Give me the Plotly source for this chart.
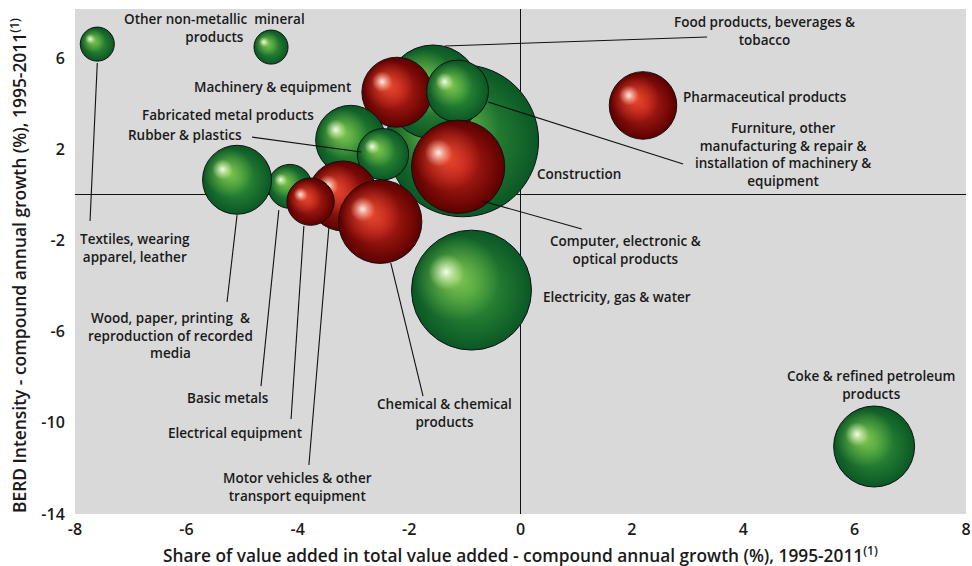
import math
import plotly.graph_objects as go

# ---------------- data ----------------
sectors = [
    "Construction", "Food products, beverages & tobacco", "Electricity, gas & water",
    "Machinery & equipment", "Furniture, other manufacturing & repair", "Computer, electronic & optical products",
    "Fabricated metal products", "Rubber & plastics", "Motor vehicles & other transport equipment",
    "Chemical & chemical products", "Basic metals", "Electrical equipment",
    "Wood, paper, printing & reproduction of recorded media", "Textiles, wearing apparel, leather",
    "Other non-metallic mineral products", "Pharmaceutical products", "Coke & refined petroleum products",
]
value_added_growth = [-1.04, -1.57, -0.88, -2.22, -1.13, -1.12, -3.05, -2.47, -3.19, -2.52,
                      -4.14, -3.77, -5.09, -7.60, -4.48, 2.20, 6.35]
berd_growth = [2.37, 4.51, -4.18, 4.50, 4.55, 1.23, 2.39, 1.78, -0.05, -1.18,
               0.37, -0.30, 0.66, 6.61, 6.48, 3.92, -11.04]
bubble_weight = [57.8, 22.1, 36.0, 12.25, 9.6, 21.8, 12.25, 6.6, 12.25, 17.4,
                 4.84, 5.6, 11.9, 2.9, 2.9, 11.4, 16.4]
tech_group = ["low", "low", "low", "high", "low", "high", "low", "low", "high", "high",
              "low", "high", "low", "low", "low", "high", "low"]

x_ticks = [-8, -6, -4, -2, 0, 2, 4, 6, 8]
x_tick_text = ["-8", "-6", "-4", "-2", "0", "2", "4", "6", "8"]
y_ticks = [-14, -10, -6, -2, 2, 6]
y_tick_text = ["-14", "-10", "-6", "-2", "2", "6"]

x_title = "Share of value added in total value added - compound annual growth (%), 1995-2011<sup>(1)</sup>"
y_title = "BERD Intensity - compound annual growth (%), 1995-2011<sup>(1)</sup>"

# ---------------- layout constants ----------------
W, H = 972, 566
M = dict(l=75, r=6, t=9, b=52)
XR = [-8, 8]
YR = [-14, 8.15]
MAX_DIAM = 152
FONT = "Open Sans"
TXT = "#1a1a1a"

PW = W - M["l"] - M["r"]
PH = H - M["t"] - M["b"]
px_x = PW / (XR[1] - XR[0])
px_y = PH / (YR[1] - YR[0])
wmax = max(bubble_weight)

styles = {
    "low": dict(edge="#0a5726", center="#3a9a3a",
                mid=("rgba(140,205,85,0.95)", "rgba(110,185,70,0)"),
                hi=("rgba(245,253,232,1)", "rgba(200,238,160,0)")),
    "high": dict(edge="#5c0000", center="#c4261a",
                 mid=("rgba(238,80,52,0.95)", "rgba(225,60,40,0)"),
                 hi=("rgba(255,240,232,1)", "rgba(255,175,155,0)")),
}

fig = go.Figure()
for name, xv, yv, w, g in zip(sectors, value_added_growth, berd_growth, bubble_weight, tech_group):
    s = styles[g]
    d = MAX_DIAM * math.sqrt(w / wmax)
    r = d / 2
    fig.add_trace(go.Scatter(
        x=[xv], y=[yv], mode="markers", name=name, hoverinfo="name",
        marker=dict(size=d, sizemode="diameter", color=s["edge"],
                    gradient=dict(type="radial", color=s["center"]),
                    line=dict(color="#111111", width=1), opacity=1),
    ))
    # soft lit area
    fig.add_trace(go.Scatter(
        x=[xv - 0.24 * r / px_x], y=[yv + 0.2 * r / px_y], mode="markers", hoverinfo="skip",
        marker=dict(size=2 * 0.72 * r, color=s["mid"][1],
                    gradient=dict(type="radial", color=s["mid"][0]), line=dict(width=0)),
    ))
    # specular highlight
    fig.add_trace(go.Scatter(
        x=[xv - 0.42 * r / px_x], y=[yv + 0.3 * r / px_y], mode="markers", hoverinfo="skip",
        marker=dict(size=2 * 0.3 * r, color=s["hi"][1],
                    gradient=dict(type="radial", color=s["hi"][0]), line=dict(width=0)),
    ))

# ---------------- labels (layout) ----------------
labels = [
    ("Other non-metallic  mineral<br>products", -5.49, 7.31, None),
    ("Textiles, wearing<br>apparel, leather", -6.92, -2.33, ((-7.73, -1.15), (-7.60, 5.78))),
    ("Machinery & equipment", -4.46, 4.73, None),
    ("Fabricated metal products", -5.25, 3.50, None),
    ("Rubber & plastics", -6.02, 2.62, ((-4.82, 2.53), (-2.86, 1.88))),
    ("Food products, beverages &<br>tobacco", 4.39, 7.18, ((3.35, 6.92), (-1.36, 6.53))),
    ("Pharmaceutical products", 4.39, 4.29, None),
    ("Furniture, other<br>manufacturing & repair &<br>installation of machinery &<br>equipment", 4.71, 1.79,
     ((2.92, 1.35), (-0.58, 4.07))),
    ("Construction", 1.05, 0.91, None),
    ("Computer, electronic &<br>optical products", 1.88, -2.42, ((1.10, -1.50), (-0.69, -0.27))),
    ("Electricity, gas & water", 1.73, -4.48, None),
    ("Chemical & chemical<br>products", -1.37, -9.57, ((-1.75, -8.83), (-2.33, -2.99))),
    ("Wood, paper, printing  &<br>reproduction of recorded<br>media", -6.29, -6.15, ((-5.27, -4.70), (-5.09, -0.89))),
    ("Basic metals", -5.25, -8.93, ((-4.66, -8.39), (-4.34, -0.67))),
    ("Electrical equipment", -5.13, -10.46, ((-4.12, -9.83), (-3.89, -1.37))),
    ("Motor vehicles & other<br>transport equipment", -4.00, -12.82, ((-3.80, -11.85), (-3.44, -1.40))),
    ("Coke & refined petroleum<br>products", 6.29, -8.34, None),
]
for text, lx, ly, leader in labels:
    fig.add_annotation(x=lx, y=ly, xref="x", yref="y", text=text, showarrow=False,
                       align="center",
                       font=dict(family=FONT, size=13.5, color=TXT, weight=600))
    if leader:
        (x0, y0), (x1, y1) = leader
        fig.add_shape(type="line", xref="x", yref="y", x0=x0, y0=y0, x1=x1, y1=y1,
                      line=dict(color="#111111", width=1.1), layer="above")

# axis titles as paper-anchored annotations
fig.add_annotation(x=(520 - M["l"]) / PW, y=-(554 - (H - M["b"])) / PH,
                   xref="paper", yref="paper", text=x_title, showarrow=False,
                   xanchor="center", yanchor="middle",
                   font=dict(family=FONT, size=17.3, color=TXT, weight=600))
fig.add_annotation(x=-(M["l"] - 18) / PW, y=(H - M["b"] - 266) / PH,
                   xref="paper", yref="paper", text=y_title, showarrow=False, textangle=-90,
                   xanchor="center", yanchor="middle",
                   font=dict(family=FONT, size=17.4, color=TXT, weight=600))

axis_common = dict(showgrid=False, zeroline=True, zerolinecolor="#111111", zerolinewidth=1,
                   showline=False, automargin=False, ticklabeloverflow="allow",
                   tickfont=dict(family=FONT, size=16, color=TXT, weight=600))
fig.update_layout(
    width=W, height=H, margin=M,
    paper_bgcolor="white", plot_bgcolor="#d9d9d9",
    showlegend=False, hovermode=False,
    font=dict(family=FONT, color=TXT),
    xaxis=dict(range=XR, tickvals=x_ticks, ticktext=x_tick_text,
               ticks="outside", ticklen=1, tickcolor="rgba(0,0,0,0)", **axis_common),
    yaxis=dict(range=YR, tickvals=y_ticks, ticktext=y_tick_text,
               ticks="outside", ticklen=6, tickcolor="rgba(0,0,0,0)", **axis_common),
)

fig.write_html("out.html", config={"displayModeBar": False},
               post_script="document.body.style.margin='0';document.body.style.overflow='hidden';")
